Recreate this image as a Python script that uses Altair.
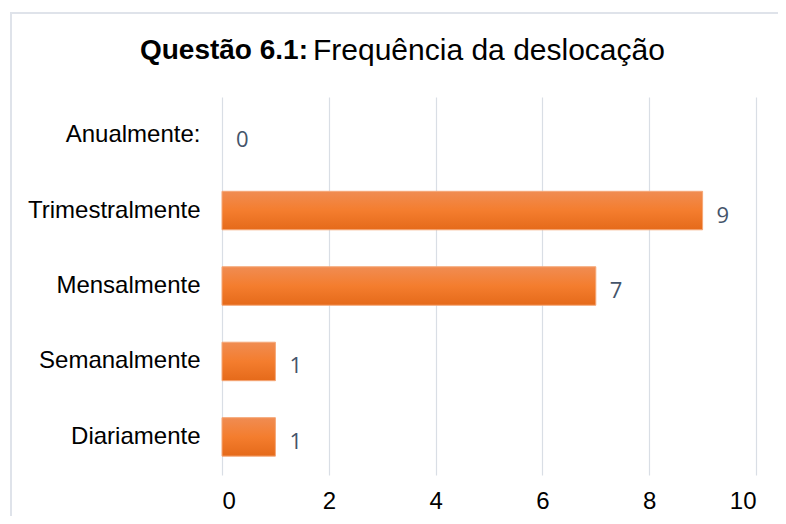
import altair as alt
import pandas as pd

categories = ["Anualmente:", "Trimestralmente", "Mensalmente", "Semanalmente", "Diariamente"]
values = [0, 9, 7, 1, 1]
x_ticks = [0, 2, 4, 6, 8, 10]
title_bold = "Questão 6.1:"
title_rest = "Frequência da deslocação"

df = pd.DataFrame({"cat": categories, "val": values})

W, H = 534, 378

y_enc = alt.Y("cat:N", sort=categories, title=None,
              scale=alt.Scale(paddingInner=0.49, paddingOuter=0.25),
              axis=alt.Axis(labelFont="Liberation Sans", labelFontSize=24, labelColor="#000000",
                            labelPadding=22, ticks=False, domain=False, grid=False))
x_enc = alt.X("val:Q", title=None,
              scale=alt.Scale(domain=[0, 10], nice=False),
              axis=alt.Axis(values=x_ticks, labelFont="Liberation Sans", labelFontSize=24,
                            labelColor="#000000", labelPadding=14, ticks=False, domain=False,
                            grid=True, gridColor="#d9dee5", gridWidth=1.2))

frame = alt.Chart(pd.DataFrame({"a": [0]})).mark_rect(
    fill="transparent", stroke="#dfe3ea", strokeWidth=2
).encode(x=alt.value(-211), x2=alt.value(W + 60), y=alt.value(-84), y2=alt.value(H + 80))

grad = alt.Gradient(gradient="linear", x1=0, x2=0, y1=0, y2=1,
                    stops=[alt.GradientStop(offset=0, color="#f08c52"),
                           alt.GradientStop(offset=0.5, color="#f47d2e"),
                           alt.GradientStop(offset=1, color="#e56a1a")])

bars = alt.Chart(df).transform_filter("datum.val > 0").mark_bar(
    color=grad, stroke="#f5a777", strokeWidth=1).encode(x=x_enc, y=y_enc)

labels = alt.Chart(df).mark_text(
    align="left", baseline="middle", dx=14, dy=5, font="Open Sans", fontSize=22, color="#44546a"
).encode(x=alt.X("val:Q"), y=alt.Y("cat:N", sort=categories), text="val:Q")

tdf = pd.DataFrame({"t1": [title_bold], "t2": [title_rest]})
t1 = alt.Chart(tdf).mark_text(align="right", baseline="middle", font="Liberation Sans",
                              fontSize=28, fontWeight="bold", color="#000000").encode(
    x=alt.value(86), y=alt.value(-46), text="t1:N")
t2 = alt.Chart(tdf).mark_text(align="left", baseline="middle", font="Liberation Sans",
                              fontSize=30, color="#000000").encode(
    x=alt.value(91), y=alt.value(-46), text="t2:N")

chart = alt.layer(frame, bars, labels, t1, t2).properties(
    width=W, height=H,
    autosize=alt.AutoSizeParams(type="none"),
    padding={"left": 214, "top": 89, "right": 22, "bottom": 41},
).configure_view(stroke=None)

chart.save("out.html", embed_options={"renderer": "svg", "actions": False})
